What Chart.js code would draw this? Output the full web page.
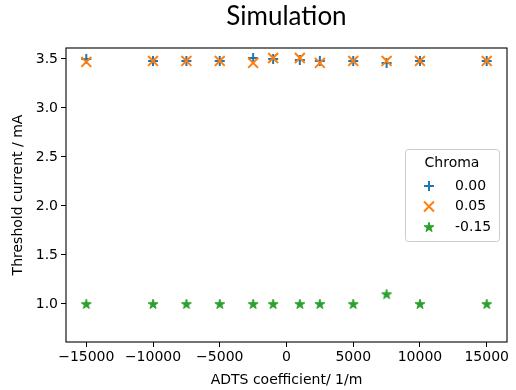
<!DOCTYPE html>
<html>
<head>
<meta charset="utf-8">
<title>Simulation</title>
<script src="https://cdn.jsdelivr.net/npm/chart.js@4.4.1/dist/chart.umd.min.js"></script>
<style>
  html, body { margin: 0; padding: 0; background: #fff; }
  #wrap { width: 516px; height: 390px; }
</style>
</head>
<body>
<div id="wrap"><canvas id="chart"></canvas></div>
<script>
// ADTS coefficient sweep (1/m)
const adts = [-15000, -10000, -7500, -5000, -2500, -1000, 1000, 2500, 5000, 7500, 10000, 15000];

// threshold current (mA) for each chroma setting
const chromaLabels = ['0.00', '0.05', '-0.15'];
const thrChroma000 = [3.50, 3.48, 3.48, 3.48, 3.51, 3.50, 3.49, 3.48, 3.48, 3.46, 3.48, 3.48];
const thrChroma005 = [3.47, 3.48, 3.48, 3.48, 3.46, 3.51, 3.51, 3.46, 3.48, 3.48, 3.48, 3.48];
const thrChromaM015 = [1.0, 1.0, 1.0, 1.0, 1.0, 1.0, 1.0, 1.0, 1.0, 1.1, 1.0, 1.0];

const xTicks = [-15000, -10000, -5000, 0, 5000, 10000, 15000];
const yTicks = [1.0, 1.5, 2.0, 2.5, 3.0, 3.5];

const FONT = "'DejaVu Sans', sans-serif";

// filled five-point star, like matplotlib's '*' marker
function makeStar(color) {
  const c = document.createElement('canvas');
  c.width = 14; c.height = 14;
  const g = c.getContext('2d');
  const R = 5.2, r = R * 0.382;
  g.beginPath();
  for (let i = 0; i < 10; i++) {
    const rad = (i % 2 === 0) ? R : r;
    const a = -Math.PI / 2 + i * Math.PI / 5;
    const px = 7 + rad * Math.cos(a), py = 7.4 + rad * Math.sin(a);
    if (i === 0) g.moveTo(px, py); else g.lineTo(px, py);
  }
  g.closePath();
  g.fillStyle = color;
  g.strokeStyle = color;
  g.lineWidth = 1;
  g.fill();
  g.stroke();
  return c;
}
const star = makeStar('#2ca02c');

function pts(ys) {
  return adts.map((x, i) => ({ x: x, y: ys[i] }));
}

const datasets = [
  { label: chromaLabels[0], data: pts(thrChroma000), pointStyle: 'cross', pointRadius: 5,
    borderColor: '#1f77b4', backgroundColor: '#1f77b4', pointBorderWidth: 2, order: 2 },
  { label: chromaLabels[1], data: pts(thrChroma005), pointStyle: 'crossRot', pointRadius: 7,
    borderColor: '#ff7f0e', backgroundColor: '#ff7f0e', pointBorderWidth: 2, order: 1 },
  { label: chromaLabels[2], data: pts(thrChromaM015), pointStyle: star, pointRadius: 5,
    borderColor: '#2ca02c', backgroundColor: '#2ca02c', pointBorderWidth: 0, order: 0 }
];

// axes box on all four sides, plus the title centred over the plot
const frame = {
  id: 'frame',
  afterDatasetsDraw(chart) {
    const { ctx, chartArea: a } = chart;
    ctx.save();
    ctx.strokeStyle = '#000';
    ctx.lineWidth = 1.1;
    ctx.strokeRect(a.left, a.top, a.right - a.left, a.bottom - a.top);

    ctx.fillStyle = '#000';
    ctx.font = '26px Lato, sans-serif';
    ctx.textAlign = 'center';
    ctx.textBaseline = 'middle';
    ctx.fillText('Simulation', (a.left + a.right) / 2, 17);
    ctx.restore();
  }
};

// legend box with a title, placed at the right middle of the plot
const boxLegend = {
  id: 'boxLegend',
  afterDraw(chart) {
    const { ctx, chartArea: a } = chart;
    const w = 94, h = 92;
    const x0 = a.right - 8 - w;
    const y0 = (a.top + a.bottom) / 2 - h / 2;
    ctx.save();
    ctx.beginPath();
    ctx.roundRect(x0 + 0.5, y0 + 0.5, w, h, 3);
    ctx.fillStyle = 'rgba(255,255,255,0.8)';
    ctx.fill();
    ctx.strokeStyle = '#cccccc';
    ctx.lineWidth = 1;
    ctx.stroke();

    ctx.fillStyle = '#000';
    ctx.font = '14px ' + FONT;
    ctx.textBaseline = 'middle';
    ctx.textAlign = 'center';
    ctx.fillText('Chroma', x0 + w / 2, y0 + 14);

    ctx.textAlign = 'left';
    chart.data.datasets.forEach((ds, i) => {
      const cy = y0 + 37 + i * 20.5;
      ctx.strokeStyle = ds.borderColor;
      ctx.fillStyle = ds.backgroundColor;
      ctx.lineWidth = ds.pointBorderWidth || 1;
      Chart.helpers.drawPoint(ctx, {
        pointStyle: ds.pointStyle, radius: ds.pointRadius, rotation: 0,
        borderWidth: ds.pointBorderWidth
      }, x0 + 24, cy);
      ctx.fillStyle = '#000';
      ctx.fillText(ds.label, x0 + 50, cy);
    });
    ctx.restore();
  }
};

new Chart(document.getElementById('chart'), {
  type: 'scatter',
  data: { datasets: datasets },
  plugins: [frame, boxLegend],
  options: {
    responsive: true,
    maintainAspectRatio: false,
    animation: false,
    layout: { padding: { top: 48, right: 9, bottom: 0, left: 0 } },
    plugins: {
      legend: { display: false },
      tooltip: { enabled: false },
      title: { display: false }
    },
    scales: {
      x: {
        type: 'linear',
        min: -16520,
        max: 16520,
        afterBuildTicks(s) { s.ticks = xTicks.map(v => ({ value: v })); },
        afterFit(s) { s.height = 48; },
        border: { display: false },
        grid: { drawOnChartArea: false, drawTicks: true, tickLength: 5, color: '#000', lineWidth: 1 },
        ticks: {
          color: '#000', padding: 2, maxRotation: 0,
          font: { family: FONT, size: 14 },
          callback: v => (v < 0 ? '\u2212' + Math.abs(v) : String(v))
        },
        title: {
          display: true, text: 'ADTS coefficient/ 1/m', color: '#000',
          font: { family: FONT, size: 14 }, padding: { top: 0, bottom: 1 }
        }
      },
      y: {
        type: 'linear',
        min: 0.612,
        max: 3.612,
        afterBuildTicks(s) { s.ticks = yTicks.map(v => ({ value: v })); },
        afterFit(s) { s.width = 66; },
        border: { display: false },
        grid: { drawOnChartArea: false, drawTicks: true, tickLength: 5, color: '#000', lineWidth: 1 },
        ticks: {
          color: '#000', padding: 3,
          font: { family: FONT, size: 14 },
          callback: v => v.toFixed(1)
        },
        title: {
          display: true, text: 'Threshold current / mA', color: '#000',
          font: { family: FONT, size: 14 }, padding: { top: 10, bottom: 0 }
        }
      }
    }
  }
});
</script>
</body>
</html>
